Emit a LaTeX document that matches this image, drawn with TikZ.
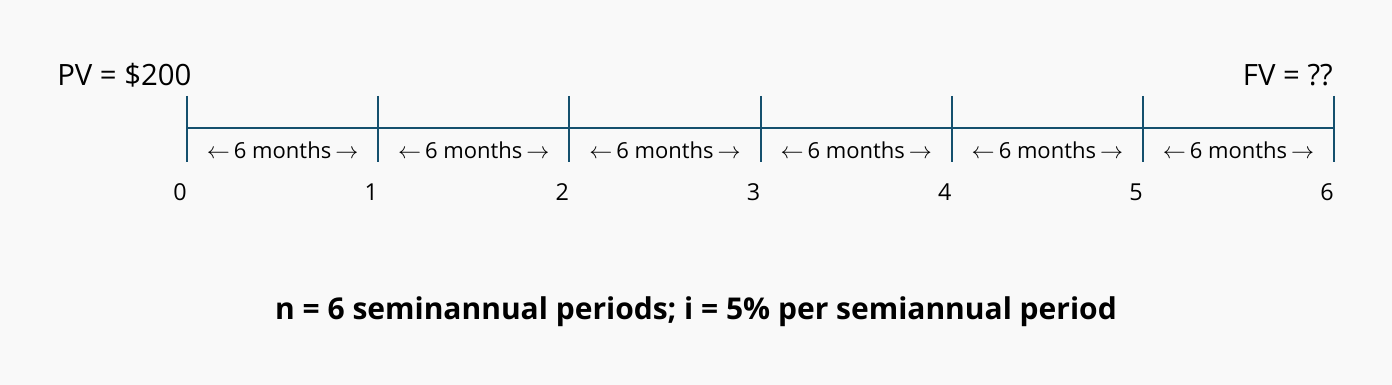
\documentclass[tikz,border=0pt]{standalone}
\usepackage{fontspec}
\setmainfont{Open Sans}
\usetikzlibrary{calc}
\definecolor{bg}{HTML}{F9F9F9}
\definecolor{tl}{HTML}{15506E}
\newcommand{\sixm}{$\leftarrow$\hspace{3pt}6 months\hspace{3pt}$\rightarrow$}
\begin{document}
\begin{tikzpicture}[x=0.75pt,y=-0.75pt,
  tick/.style={draw=tl,line width=1.6pt},
  axis/.style={draw=tl,line width=1.6pt},
  per/.style={font=\fontsize{16.5}{19}\selectfont,text=black,inner sep=0pt},
  num/.style={font=\fontsize{17.5}{20}\selectfont,inner sep=0pt},
  lab/.style={font=\fontsize{22}{26}\selectfont,inner sep=0pt},
  note/.style={font=\fontsize{22.5}{26}\selectfont\bfseries,inner sep=0pt}]
\fill[bg] (0,0) rectangle (1392,385);
\useasboundingbox (0,0) rectangle (1392,385);
\foreach \i/\x in {0/187,1/378.2,2/569.4,3/760.6,4/951.8,5/1143,6/1334}{
  \coordinate (t\i) at (\x,96);
  \coordinate (b\i) at (\x,162);
  \coordinate (m\i) at (\x,128);
  \draw[tick] (t\i) -- (b\i);
  \node[num] (n\i) at (\x-7,192) {\i};
}
\draw[axis] (m0) -- (m6);
\foreach \i [evaluate=\i as \j using int(\i+1)] in {0,...,5}{
  \node[per] (p\i) at ($(m\i)!0.5!(m\j)+(0,22)$) {\sixm};
}
\node[lab,anchor=west] (pv) at (57,75) {PV = \$200};
\node[lab,anchor=east] (fv) at (1333,75) {FV = ??};
\node[note] (nt) at (696,312) {n = 6 seminannual periods; i = 5\% per semiannual period};
\end{tikzpicture}
\end{document}
